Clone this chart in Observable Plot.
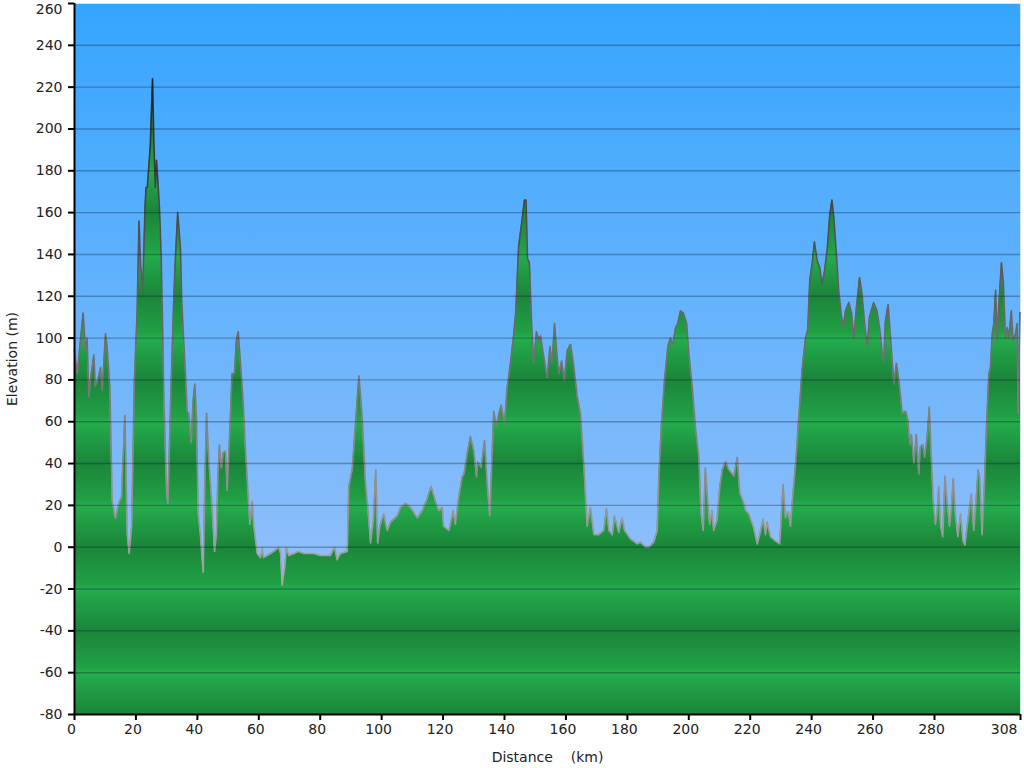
<!DOCTYPE html>
<html>
<head>
<meta charset="utf-8">
<script src="https://cdn.jsdelivr.net/npm/d3@7"></script>
<script src="https://cdn.jsdelivr.net/npm/@observablehq/plot@0.6"></script>
<style>
  html, body { margin: 0; padding: 0; background: #fff; }
  #chart { width: 1024px; height: 768px; }
</style>
</head>
<body>
<div id="chart"></div>
<script>
// Distance along route (km)
const distKm = [
  0, 0.9, 2.8, 3.6, 4.1, 4.7, 5.2, 6.3, 6.8, 7.6, 8.5, 9.0, 10.1, 10.6, 11.5, 12.3, 13.3, 14.4, 15.3, 16.4,
  17.2, 17.8, 18.6, 19.5, 20.4, 21.0, 21.5, 22.2, 23.0, 23.3, 23.7, 24.1, 24.7, 25.4, 25.8, 26.3, 26.7, 27.1, 27.7, 28.2,
  28.6, 29.1, 30.0, 30.4, 31.3, 32.3, 32.9, 33.6, 34.5, 34.9, 35.5, 36.1, 36.7, 37.2, 38.0, 38.6, 39.2, 39.7, 40.3, 41.0,
  41.9, 42.4, 43.0, 43.7, 44.8, 45.6, 46.2, 46.7, 47.2, 47.8, 48.4, 49.2, 49.7, 50.6, 51.3, 52.1, 52.7, 53.3, 54.0, 54.9,
  55.7, 56.4, 57.1, 57.9, 58.4, 59.5, 60.6, 61.1, 61.6, 63.8, 64.9, 66.5, 67.1, 67.6, 68.4, 69.0, 69.8, 71.4, 73.0, 74.7,
  77.9, 80.1, 83.3, 84.7, 85.5, 86.6, 88.8, 89.3, 90.4, 91.5, 92.6, 93.7, 94.7, 95.5, 96.4, 97.3, 98.1, 98.7, 99.4, 100.7,
  101.8, 102.9, 105.1, 106.1, 107.8, 109.4, 111.6, 113.2, 114.8, 116.1, 117.5, 118.6, 119.7, 120.2, 121.9, 123.3, 124.0, 125.1, 126.2, 126.8,
  127.9, 128.9, 130.0, 130.9, 131.3, 132.4, 133.5, 134.4, 135.2, 136.2, 136.5, 137.3, 137.9, 138.9, 140.0, 140.9, 142.0, 142.8, 143.6, 144.6,
  145.5, 146.5, 147.0, 147.5, 148.1, 148.8, 149.5, 150.4, 151.2, 151.7, 152.8, 153.9, 154.8, 155.5, 156.3, 156.9, 157.7, 158.6, 159.5, 160.4,
  161.5, 162.6, 163.7, 164.7, 165.8, 166.9, 168.0, 169.1, 170.7, 172.3, 173.2, 174.0, 175.1, 175.8, 177.2, 178.3, 179.1, 181.0, 183.2, 184.3,
  185.9, 187.0, 188.6, 189.7, 190.2, 191.0, 192.1, 193.2, 194.0, 194.8, 195.7, 196.4, 197.3, 198.2, 199.3, 200.0, 201.1, 202.2, 203.3, 204.0,
  204.7, 205.4, 206.2, 206.8, 207.6, 208.1, 209.2, 210.1, 210.9, 212.0, 213.0, 214.7, 215.8, 216.6, 217.7, 218.5, 219.5, 221.0, 222.3, 223.1,
  224.2, 225.0, 225.5, 226.6, 228.2, 229.6, 230.7, 231.5, 232.4, 233.1, 233.7, 234.8, 235.9, 236.9, 238.0, 238.7, 239.4, 240.2, 240.9, 241.8,
  242.6, 243.4, 244.2, 245.1, 245.9, 246.6, 247.2, 248.1, 248.8, 249.6, 250.3, 251.0, 252.1, 253.0, 253.7, 254.6, 255.6, 256.4, 257.2, 258.1,
  258.8, 260.2, 261.3, 262.2, 263.0, 263.5, 264.0, 264.9, 265.7, 266.8, 267.6, 268.4, 269.5, 270.6, 271.3, 272.0, 272.5, 273.3, 274.1, 274.9,
  275.4, 276.2, 276.8, 277.6, 278.3, 278.9, 279.6, 280.3, 280.9, 281.4, 282.0, 282.7, 283.4, 284.1, 284.9, 285.5, 286.1, 286.8, 287.6, 288.5,
  289.3, 289.9, 290.6, 291.4, 292.0, 292.8, 293.5, 294.2, 294.7, 295.5, 296.3, 296.9, 297.7, 298.2, 298.8, 299.3, 299.9, 300.4, 300.9, 301.5,
  301.8, 302.4, 303.1, 303.7, 304.2, 305.0, 305.6, 306.4, 306.9, 307.2, 307.8, 308.0
];
// Elevation (m)
const elevM = [
  94, 83, 112, 94, 100, 72, 80, 92, 77, 80, 86, 75, 102, 96, 77, 22, 14, 21, 24, 63,
  6, -3, 10, 80, 113, 156, 135, 123, 164, 172, 172, 180, 193, 224, 196, 172, 185, 176, 161, 140,
  112, 70, 26, 21, 70, 118, 140, 160, 143, 118, 100, 84, 65, 64, 50, 70, 78, 62, 16, 6,
  -12, 29, 64, 42, 19, -2, 6, 35, 49, 38, 45, 46, 27, 57, 83, 83, 99, 103, 89, 70,
  46, 29, 11, 22, 10, -3, -5, 0, -5, -3, -2, 0, -3, -18, -10, 0, -4, -3, -2, -3,
  -3, -4, -4, 0, -6, -3, -2, 29, 37, 59, 82, 61, 32, 19, 2, 13, 37, 2, 10, 16,
  8, 12, 15, 19, 21, 19, 14, 17.5, 23, 29, 22, 17.5, 19, 10, 8, 17.5, 11, 24, 33.5, 35,
  45, 53, 46, 33.5, 41, 38, 51, 30, 15, 53, 65, 58, 62, 68, 59, 76.5, 89, 99, 111, 144,
  154, 166, 166, 138, 136, 108, 88, 103, 99, 101, 91, 81, 96, 88, 107, 95, 83, 89, 80, 94,
  97, 86, 72, 64, 40, 10, 19, 6, 6, 8, 18.5, 8, 6, 15, 7, 14, 8, 4, 1.6, 2.4,
  0, 0, 2.4, 8, 32, 57, 80, 96, 100, 97, 105, 107, 113, 112, 107, 93, 77, 57, 43, 16,
  8, 38, 22, 11, 17.5, 8, 13, 29, 37, 41, 37, 34, 43, 26, 22, 17.5, 16, 10, 1.6, 6,
  13.6, 6, 12, 5, 3, 1.6, 30, 14, 17, 10, 22, 40, 64, 85, 100, 104, 128, 136, 146, 137,
  134, 126, 132, 143, 159, 166, 158, 139, 123, 112, 105, 113, 117, 112, 100, 115, 129, 121, 108, 96,
  110, 117, 113, 104, 93, 89, 108, 116, 100, 78, 88, 80, 64, 65, 61, 49, 54, 40, 54, 35,
  48, 49, 43, 53, 67, 45, 22, 11, 17.5, 29, 10, 5, 34, 22, 10, 19, 33, 16, 5, 16,
  3, 1, 10, 19, 25.5, 8, 22, 37, 33.5, 6, 32, 57, 83, 86, 102, 107, 123, 99, 115, 129,
  136, 127, 100, 105, 100, 113, 99, 102, 107, 64, 112, 112
];
const xTicks = [0, 20, 40, 60, 80, 100, 120, 140, 160, 180, 200, 220, 240, 260, 280];
const xEndTick = [308];
const yTicks = [-80, -60, -40, -20, 0, 20, 40, 60, 80, 100, 120, 140, 160, 180, 200, 220, 240];
const yTopTick = [260];
const gridLevels = [-60, -40, -20, 0, 20, 40, 60, 80, 100, 120, 140, 160, 180, 200, 220, 240];
const xLabel = "Distance\u00a0\u00a0\u00a0 (km)";
const yLabel = "Elevation (m)";

const profile = distKm.map((d, i) => ({dist: d, elev: elevM[i]}));
const fmt = d => String(d);
const blank = () => "";
const tickStyle = {stroke: "#000", strokeWidth: 2, label: null, fill: "#222"};

const svg = Plot.plot({
  width: 1024,
  height: 768,
  marginLeft: 74,
  marginRight: 4,
  marginTop: 3,
  marginBottom: 54,
  style: {fontFamily: "'DejaVu Sans', Verdana, sans-serif", fontSize: "14px", color: "#222", background: "#fff"},
  x: {domain: [0, 308]},
  y: {domain: [-80, 260]},
  marks: [
    Plot.frame({fill: "url(#bgGrad)", stroke: "#d6e2ee", strokeWidth: 1}),
    Plot.areaY(profile, {x: "dist", y1: -80, y2: "elev", fill: "url(#bandGrad)"}),
    Plot.lineY(profile, {x: "dist", y: "elev", stroke: "url(#lineGrad)", strokeWidth: 1.6, strokeLinejoin: "round"}),
    Plot.ruleY(gridLevels, {stroke: "#0a1a30", strokeOpacity: 0.32, strokeWidth: 1.4}),
    Plot.ruleX([0], {stroke: "#000", strokeWidth: 2}),
    Plot.ruleY([-80], {stroke: "#000", strokeWidth: 2}),
    // y axis: ticks + labels
    Plot.axisY({...tickStyle, ticks: yTicks, tickFormat: fmt, tickSize: 6, tickPadding: 6}),
    Plot.axisY({...tickStyle, ticks: yTopTick, tickFormat: blank, tickSize: 6}),
    Plot.axisY({...tickStyle, ticks: yTopTick, tickFormat: fmt, tickSize: 6, tickPadding: 6, strokeOpacity: 0, dy: 6}),
    // x axis: tick marks at true positions, labels nudged
    Plot.axisX({...tickStyle, ticks: xTicks.concat(xEndTick), tickFormat: blank, tickSize: 6}),
    Plot.axisX({...tickStyle, ticks: xTicks, tickFormat: fmt, tickSize: 6, tickPadding: 4, strokeOpacity: 0, dx: -3}),
    Plot.axisX({...tickStyle, ticks: xEndTick, tickFormat: fmt, tickSize: 6, tickPadding: 4, strokeOpacity: 0, textAnchor: "end", dx: -3}),
    Plot.text([xLabel], {frameAnchor: "bottom", dy: 43, lineAnchor: "middle", textAnchor: "middle", fill: "#222", fontSize: 14}),
    Plot.text([yLabel], {frameAnchor: "left", dx: -62, rotate: -90, textAnchor: "middle", lineAnchor: "middle", fill: "#222", fontSize: 14})
  ]
});

const ys = svg.scale("y");
const defs = d3.select(svg).insert("defs", ":first-child");

const bg = defs.append("linearGradient").attr("id", "bgGrad")
  .attr("gradientUnits", "userSpaceOnUse")
  .attr("x1", 0).attr("x2", 0).attr("y1", ys.apply(260)).attr("y2", ys.apply(-80));
bg.append("stop").attr("offset", 0).attr("stop-color", "#35a5ff");
bg.append("stop").attr("offset", 0.8).attr("stop-color", "#90bffa");
bg.append("stop").attr("offset", 1).attr("stop-color", "#a6c9f8");

const band = defs.append("linearGradient").attr("id", "bandGrad")
  .attr("gradientUnits", "userSpaceOnUse")
  .attr("spreadMethod", "repeat")
  .attr("x1", 0).attr("x2", 0).attr("y1", ys.apply(40)).attr("y2", ys.apply(-40));
[[0, "#1b853a"], [0.22, "#21a045"], [0.25, "#24ad4c"], [0.5, "#1b853a"], [0.72, "#21a045"], [0.75, "#24ad4c"], [1, "#1b853a"]]
  .forEach(([o, c]) => band.append("stop").attr("offset", o).attr("stop-color", c));

const lg = defs.append("linearGradient").attr("id", "lineGrad")
  .attr("gradientUnits", "userSpaceOnUse")
  .attr("x1", 0).attr("x2", 0).attr("y1", ys.apply(230)).attr("y2", ys.apply(-20));
lg.append("stop").attr("offset", 0).attr("stop-color", "#1e1e1e");
lg.append("stop").attr("offset", 0.5).attr("stop-color", "#6a6a6a");
lg.append("stop").attr("offset", 1).attr("stop-color", "#a8a8a8");

document.getElementById("chart").appendChild(svg);
</script>
</body>
</html>
